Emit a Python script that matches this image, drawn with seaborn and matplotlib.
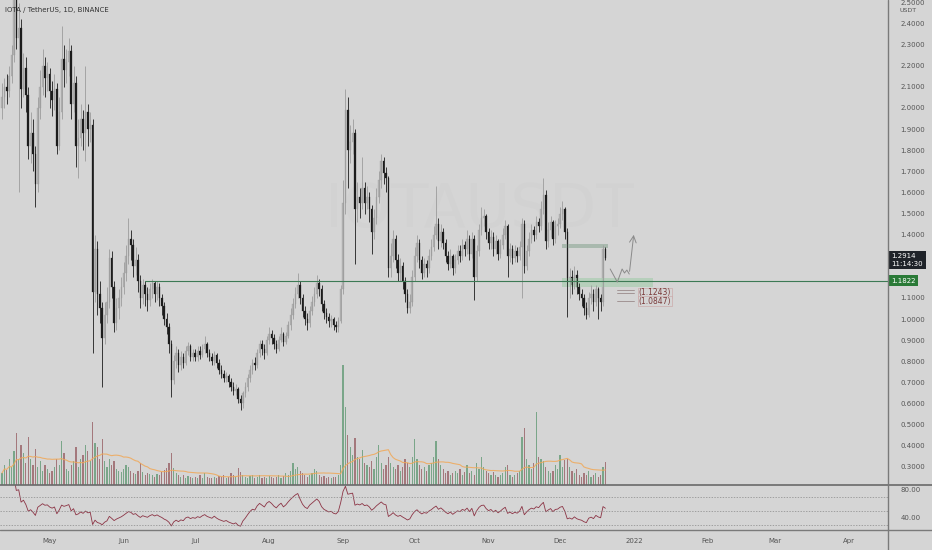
import numpy as np
import pandas as pd
import matplotlib
matplotlib.use("Agg")
import matplotlib.pyplot as plt
import matplotlib.dates as mdates
from matplotlib.lines import Line2D
from matplotlib.ticker import FixedLocator, FormatStrFormatter
from matplotlib.transforms import blended_transform_factory
import seaborn as sns

# ---------------- data (daily candles from 2021-04-11) ----------------
first_day = "2021-04-11"
first_open = 2.00
closes = [2.05, 2.10, 2.08, 2.15, 2.25, 2.55, 2.33, 2.38, 2.09, 2.19,
          2.06, 1.82, 1.88, 1.78, 1.64, 2.00, 2.10, 2.20, 2.14, 2.16,
          2.08, 2.04, 2.09, 1.82, 1.98, 2.23, 2.18, 2.22, 2.27, 2.02,
          2.12, 1.82, 1.86, 1.95, 1.88, 1.98, 1.90, 1.92, 1.13, 1.33,
          1.12, 1.05, 0.91, 1.02, 1.08, 1.29, 1.15, 0.98, 1.05, 1.10,
          1.15, 1.22, 1.30, 1.38, 1.35, 1.25, 1.28, 1.18, 1.10, 1.16,
          1.12, 1.09, 1.14, 1.17, 1.12, 1.15, 1.10, 1.06, 1.00, 0.96,
          0.88, 0.71, 0.80, 0.84, 0.78, 0.82, 0.79, 0.85, 0.87, 0.82,
          0.84, 0.82, 0.85, 0.83, 0.86, 0.88, 0.84, 0.82, 0.80, 0.83,
          0.79, 0.76, 0.74, 0.72, 0.73, 0.70, 0.68, 0.66, 0.67, 0.62,
          0.60, 0.65, 0.68, 0.72, 0.76, 0.79, 0.78, 0.84, 0.88, 0.86,
          0.84, 0.90, 0.93, 0.91, 0.88, 0.86, 0.90, 0.93, 0.89, 0.92,
          0.97, 1.02, 1.07, 1.12, 1.16, 1.10, 1.04, 1.00, 0.98, 1.04,
          1.08, 1.12, 1.17, 1.14, 1.07, 1.03, 1.01, 0.99, 1.00, 0.97,
          0.96, 0.99, 1.14, 1.55, 1.99, 1.80, 1.84, 1.88, 1.52, 1.58,
          1.55, 1.62, 1.55, 1.58, 1.52, 1.41, 1.48, 1.58, 1.66, 1.75,
          1.69, 1.67, 1.24, 1.30, 1.38, 1.28, 1.22, 1.25, 1.18, 1.12,
          1.05, 1.08, 1.20, 1.30, 1.36, 1.28, 1.22, 1.26, 1.24, 1.30,
          1.34, 1.40, 1.45, 1.37, 1.41, 1.36, 1.30, 1.26, 1.30, 1.24,
          1.28, 1.32, 1.30, 1.35, 1.33, 1.38, 1.31, 1.38, 1.20, 1.32,
          1.42, 1.48, 1.49, 1.41, 1.36, 1.39, 1.33, 1.37, 1.31, 1.35,
          1.40, 1.44, 1.30, 1.33, 1.29, 1.32, 1.30, 1.34, 1.45, 1.25,
          1.32, 1.38, 1.42, 1.40, 1.46, 1.44, 1.52, 1.59, 1.37, 1.42,
          1.46, 1.38, 1.44, 1.45, 1.50, 1.52, 1.41, 1.18, 1.20, 1.16,
          1.21, 1.15, 1.12, 1.10, 1.05, 1.02, 1.10, 1.12, 1.08, 1.14,
          1.10, 1.08, 1.33, 1.2914]
highs = [2.12, 2.14, 2.16, 2.20, 2.30, 2.65, 2.60, 2.50, 2.42, 2.26,
         2.24, 2.10, 1.98, 1.95, 1.82, 2.05, 2.18, 2.28, 2.24, 2.22,
         2.19, 2.13, 2.16, 2.12, 2.05, 2.39, 2.30, 2.28, 2.33, 2.30,
         2.20, 2.15, 1.95, 2.02, 1.99, 2.20, 2.02, 1.98, 1.95, 1.40,
         1.37, 1.18, 1.08, 1.08, 1.15, 1.33, 1.32, 1.18, 1.10, 1.14,
         1.20, 1.27, 1.35, 1.48, 1.42, 1.38, 1.34, 1.31, 1.21, 1.19,
         1.18, 1.15, 1.17, 1.19, 1.18, 1.18, 1.17, 1.12, 1.08, 1.03,
         0.98, 0.90, 0.83, 0.87, 0.86, 0.85, 0.84, 0.87, 0.89, 0.88,
         0.86, 0.86, 0.87, 0.87, 0.88, 0.92, 0.89, 0.86, 0.84, 0.85,
         0.84, 0.81, 0.78, 0.76, 0.75, 0.74, 0.72, 0.70, 0.69, 0.68,
         0.64, 0.66, 0.70, 0.74, 0.78, 0.81, 0.82, 0.86, 0.90, 0.90,
         0.88, 0.92, 0.96, 0.95, 0.93, 0.90, 0.92, 0.96, 0.94, 0.94,
         0.99, 1.05, 1.10, 1.15, 1.22, 1.18, 1.12, 1.06, 1.03, 1.06,
         1.11, 1.15, 1.21, 1.19, 1.16, 1.09, 1.05, 1.03, 1.02, 1.01,
         0.99, 1.01, 1.16, 1.66, 2.09, 2.05, 1.92, 1.95, 1.90, 1.65,
         1.62, 1.77, 1.65, 1.63, 1.60, 1.54, 1.52, 1.62, 1.70, 1.78,
         1.77, 1.72, 1.68, 1.36, 1.42, 1.40, 1.31, 1.29, 1.27, 1.20,
         1.14, 1.12, 1.23, 1.34, 1.40, 1.38, 1.30, 1.29, 1.28, 1.33,
         1.38, 1.44, 1.63, 1.48, 1.45, 1.43, 1.38, 1.32, 1.33, 1.31,
         1.31, 1.35, 1.35, 1.38, 1.37, 1.42, 1.40, 1.41, 1.40, 1.35,
         1.45, 1.53, 1.52, 1.50, 1.43, 1.42, 1.41, 1.40, 1.38, 1.38,
         1.43, 1.47, 1.45, 1.36, 1.35, 1.35, 1.34, 1.37, 1.48, 1.47,
         1.35, 1.41, 1.45, 1.44, 1.49, 1.48, 1.56, 1.67, 1.61, 1.46,
         1.49, 1.47, 1.47, 1.48, 1.53, 1.56, 1.53, 1.43, 1.24, 1.23,
         1.25, 1.23, 1.17, 1.14, 1.12, 1.08, 1.13, 1.16, 1.14, 1.16,
         1.15, 1.12, 1.35, 1.34]
lows = [1.95, 2.00, 2.02, 2.05, 2.12, 2.22, 2.28, 1.60, 2.00, 2.05,
        1.98, 1.76, 1.74, 1.70, 1.53, 1.60, 1.95, 2.06, 2.05, 2.08,
        2.00, 1.96, 1.99, 1.78, 1.80, 1.95, 2.10, 2.12, 2.15, 1.95,
        1.98, 1.72, 1.67, 1.82, 1.80, 1.75, 1.82, 1.84, 0.84, 1.08,
        1.02, 0.98, 0.68, 0.88, 0.98, 1.05, 1.10, 0.94, 0.95, 1.00,
        1.06, 1.12, 1.18, 1.26, 1.28, 1.20, 1.21, 1.13, 1.05, 1.07,
        1.06, 1.04, 1.06, 1.10, 1.08, 1.09, 1.06, 1.02, 0.97, 0.93,
        0.84, 0.63, 0.69, 0.77, 0.75, 0.76, 0.77, 0.78, 0.83, 0.80,
        0.80, 0.80, 0.80, 0.81, 0.82, 0.84, 0.82, 0.80, 0.78, 0.78,
        0.77, 0.74, 0.72, 0.70, 0.70, 0.68, 0.66, 0.64, 0.64, 0.60,
        0.57, 0.58, 0.63, 0.66, 0.70, 0.74, 0.76, 0.77, 0.82, 0.83,
        0.81, 0.83, 0.88, 0.88, 0.86, 0.84, 0.85, 0.89, 0.87, 0.88,
        0.91, 0.95, 1.00, 1.05, 1.10, 1.07, 1.01, 0.97, 0.95, 0.96,
        1.02, 1.06, 1.10, 1.11, 1.04, 1.00, 0.98, 0.96, 0.96, 0.95,
        0.94, 0.94, 0.98, 1.12, 1.50, 1.62, 1.74, 1.78, 1.26, 1.46,
        1.48, 1.52, 1.50, 1.52, 1.46, 1.31, 1.38, 1.45, 1.55, 1.62,
        1.64, 1.60, 1.20, 1.20, 1.27, 1.24, 1.18, 1.18, 1.14, 1.08,
        1.03, 1.03, 1.06, 1.18, 1.27, 1.24, 1.19, 1.20, 1.20, 1.22,
        1.28, 1.32, 1.38, 1.33, 1.34, 1.33, 1.27, 1.23, 1.24, 1.21,
        1.22, 1.26, 1.27, 1.28, 1.30, 1.31, 1.28, 1.29, 1.09, 1.18,
        1.30, 1.40, 1.44, 1.38, 1.33, 1.33, 1.30, 1.31, 1.28, 1.29,
        1.33, 1.38, 1.20, 1.27, 1.26, 1.27, 1.27, 1.28, 1.10, 1.22,
        1.23, 1.30, 1.36, 1.37, 1.38, 1.41, 1.42, 1.50, 1.33, 1.34,
        1.39, 1.35, 1.36, 1.40, 1.43, 1.47, 1.38, 1.01, 1.10, 1.12,
        1.14, 1.12, 1.09, 1.06, 1.02, 1.00, 1.01, 1.07, 1.04, 1.06,
        1.00, 1.04, 1.06, 1.28]
# volume in millions
volumes = [12, 20, 15, 26, 18, 34, 52, 26, 40, 32,
           22, 48, 26, 20, 36, 18, 24, 14, 20, 16,
           12, 14, 18, 26, 20, 44, 32, 16, 14, 20,
           24, 38, 18, 26, 30, 40, 34, 24, 63, 42,
           38, 26, 46, 24, 18, 26, 20, 24, 16, 14,
           13, 16, 20, 18, 14, 12, 11, 14, 22, 13,
           10, 12, 11, 10, 8, 11, 10, 13, 15, 17,
           22, 32, 17, 12, 10, 8, 10, 7, 9, 8,
           7, 8, 7, 10, 7, 12, 8, 7, 7, 8,
           7, 9, 8, 10, 7, 8, 12, 10, 8, 17,
           13, 10, 8, 7, 9, 10, 7, 8, 10, 7,
           8, 7, 9, 8, 7, 8, 10, 7, 9, 12,
           10, 14, 22, 16, 18, 14, 12, 10, 8, 10,
           12, 16, 14, 10, 8, 9, 7, 8, 7, 8,
           8, 10, 20, 120, 78, 50, 38, 30, 47, 28,
           26, 35, 22, 20, 18, 24, 16, 28, 40, 22,
           16, 20, 28, 22, 18, 16, 20, 14, 18, 26,
           22, 18, 28, 46, 26, 20, 16, 18, 14, 20,
           22, 28, 44, 26, 20, 16, 12, 14, 10, 12,
           14, 12, 16, 10, 13, 20, 12, 14, 10, 22,
           16, 28, 18, 14, 12, 10, 13, 10, 8, 10,
           12, 18, 20, 10, 8, 10, 12, 14, 48, 57,
           26, 20, 16, 22, 73, 28, 26, 24, 18, 14,
           12, 14, 20, 16, 30, 18, 25, 26, 18, 14,
           12, 16, 10, 8, 12, 10, 14, 8, 10, 12,
           8, 10, 18, 23]

last_price = 1.2914
last_time = "11:14:30"
support_level = 1.1822
support_from = "2021-06-10"
targets = [1.1243, 1.0847]
target_dates = ("2021-12-25", "2022-01-01")
upper_zone = ("2021-12-02", "2021-12-21", 1.335, 1.355)
lower_zone = ("2021-12-02", "2022-01-09", 1.152, 1.194)
path_dates = ["2021-12-22", "2021-12-25", "2021-12-27", "2021-12-28",
              "2021-12-29", "2021-12-30", "2022-01-01"]
path_prices = [1.237, 1.175, 1.237, 1.218, 1.232, 1.213, 1.412]
# 1.2 and 1.3 sit behind the last-price / level labels
price_ticks = [0.3, 0.4, 0.5, 0.6, 0.7, 0.8, 0.9, 1.0, 1.1, 1.4,
               1.5, 1.6, 1.7, 1.8, 1.9, 2.0, 2.1, 2.2, 2.3, 2.4, 2.5]

# ---------------- derived series ----------------
dates = pd.date_range(first_day, periods=len(closes), freq="D")
x = mdates.date2num(dates)
c = np.array(closes)
o = np.concatenate([[first_open], c[:-1]])
h = np.array(highs)
l = np.array(lows)
up = c >= o
vol = pd.Series(volumes, dtype=float)
vol_ma = vol.rolling(20, min_periods=1).mean()

delta = pd.Series(c).diff()
gain = delta.clip(lower=0).ewm(alpha=1 / 14, adjust=False).mean()
loss = (-delta.clip(upper=0)).ewm(alpha=1 / 14, adjust=False).mean()
rsi = (100 - 100 / (1 + gain / loss)).bfill()

# ---------------- style ----------------
bg = "#d5d5d5"
sns.set_theme(style="white", rc={"axes.facecolor": bg, "figure.facecolor": bg})
plt.rcParams["font.family"] = ["DejaVu Sans"]
txt = "#555555"

fig = plt.figure(figsize=(9.32, 5.5), dpi=100)
W, H = 932.0, 550.0
ax = fig.add_axes([0, 65 / H, 888 / W, 485 / H])
vax = ax.twinx()
rax = fig.add_axes([0, 20 / H, 888 / W, 45 / H])
ax.set_zorder(vax.get_zorder() + 1)
ax.patch.set_visible(False)

x0 = mdates.date2num(pd.Timestamp(first_day))
xlim = (x0 - 2 / 2.385, x0 + 886 / 2.385)

# volume + MA
vcol = np.where(up, "#7aa689", "#a4787c")
vax.bar(x, vol, width=0.5, color=vcol, linewidth=0)
sns.lineplot(x=x, y=vol_ma.values, ax=vax, color="#f0a858", linewidth=0.8, alpha=0.85)
vax.set_ylim(0, 485)
vax.set_yticks([])
vax.set_xlim(xlim)

# candles
wick_col = np.where(up, "#9c9c9c", "#1c1c1c")
body_col = np.where(up, "#b3b3b3", "#1c1c1c")
ax.vlines(x, l, h, colors=wick_col, linewidth=0.6)
ax.bar(x, np.maximum(np.abs(c - o), 0.004), bottom=np.minimum(o, c), width=0.62,
       color=body_col, edgecolor=wick_col, linewidth=0.2)

ax.set_xlim(xlim)
ax.set_ylim(1 + (319 - 485) / 211, 1 + 319 / 211)

# watermark
ax.text(0.54, 0.567, "IOTAUSDT", transform=ax.transAxes, fontsize=44,
        color="#d2d2d2", ha="center", va="center", zorder=0)

# drawings
sx = mdates.date2num(pd.Timestamp(support_from))
ax.plot([sx, xlim[1] + 5], [support_level, support_level], color="#3d7a55",
        linewidth=0.8, clip_on=False, zorder=4)
for (d0, d1, p0, p1), fc, a in [(upper_zone, "#9fb3a5", 0.8), (lower_zone, "#a9cdb0", 0.7)]:
    t0 = mdates.date2num(pd.Timestamp(d0))
    t1 = mdates.date2num(pd.Timestamp(d1))
    ax.fill_between([t0, t1], p0, p1, color=fc, alpha=a, linewidth=0, zorder=1)
px = mdates.date2num(pd.to_datetime(path_dates))
ax.plot(px[:-1], path_prices[:-1], color="#8a8a8a", linewidth=0.7, zorder=5)
ax.annotate("", xy=(px[-1], path_prices[-1]), xytext=(px[-2], path_prices[-2]),
            arrowprops=dict(arrowstyle="->", color="#8a8a8a", lw=0.7))
td0 = mdates.date2num(pd.Timestamp(target_dates[0]))
td1 = mdates.date2num(pd.Timestamp(target_dates[1]))
for k, p in enumerate(targets):
    ax.plot([td0, td1], [p, p], color="#9a8a8a", linewidth=0.6, zorder=5)
    if k == 0:
        ax.plot([td0, td1], [p + 0.012, p + 0.012], color="#9a8a8a", linewidth=0.6, zorder=5)
    ax.text(td1 + 2, p, "(%.4f)" % p, fontsize=5.5, color="#7a3a3a", va="center",
            ha="left", bbox=dict(boxstyle="square,pad=0.1", fc=bg, ec="#c9a0a0", lw=0.4))

# price axis
ax.yaxis.tick_right()
ax.yaxis.set_major_locator(FixedLocator(price_ticks))
ax.yaxis.set_major_formatter(FormatStrFormatter("%.4f"))
ax.tick_params(axis="y", length=0, pad=9, labelsize=5, labelcolor=txt)
ax.set_xticks([])
for s in ax.spines.values():
    s.set_visible(False)
for s in vax.spines.values():
    s.set_visible(False)

tr = blended_transform_factory(ax.transAxes, ax.transData)
ax.text(1.004, 1.28, "%.4f\n%s" % (last_price, last_time), transform=tr, fontsize=5,
        color="white", va="center", ha="left", linespacing=1.3, clip_on=False, zorder=10,
        bbox=dict(boxstyle="square,pad=0.35", fc="#1f2329", ec="none"))
ax.text(1.004, support_level, "%.4f" % support_level, transform=tr, fontsize=5,
        color="white", va="center", ha="left", clip_on=False, zorder=10,
        bbox=dict(boxstyle="square,pad=0.3", fc="#2a7a37", ec="none"))

fig.text(5 / W, 1 - 10 / H, "IOTA / TetherUS, 1D, BINANCE", fontsize=5, color="#333333",
         va="center", ha="left")
fig.text(900 / W, 1 - 10 / H, "USDT", fontsize=4.5, color=txt, va="center", ha="left")

# RSI panel
sns.lineplot(x=x, y=rsi.values, ax=rax, color="#8c3445", linewidth=0.6)
for lvl in (70, 50, 30):
    rax.axhline(lvl, color="#8a8a8a", linewidth=0.5, linestyle=(0, (2, 2)))
rax.set_xlim(xlim)
rax.set_ylim(40 - 12 / 0.7, 80 + 5 / 0.7)
rax.yaxis.tick_right()
rax.set_yticks([40, 80])
rax.yaxis.set_major_formatter(FormatStrFormatter("%.2f"))
rax.tick_params(axis="y", length=0, pad=9, labelsize=5, labelcolor=txt)
months = pd.date_range("2021-05-01", "2022-04-01", freq="MS")
rax.set_xticks(mdates.date2num(months))
rax.set_xticklabels(["2022" if m.month == 1 else m.strftime("%b") for m in months])
rax.tick_params(axis="x", length=0, pad=6, labelsize=5, labelcolor=txt)
for s in rax.spines.values():
    s.set_visible(False)

# panel separators
fig.add_artist(Line2D([0, 1], [65 / H, 65 / H], color="#6a6a6a", linewidth=1.2))
fig.add_artist(Line2D([0, 1], [20 / H, 20 / H], color="#7a7a7a", linewidth=1.0))
fig.add_artist(Line2D([888 / W, 888 / W], [0, 1], color="#7a7a7a", linewidth=1.0))

fig.savefig("out.png", dpi=100, facecolor=bg)
